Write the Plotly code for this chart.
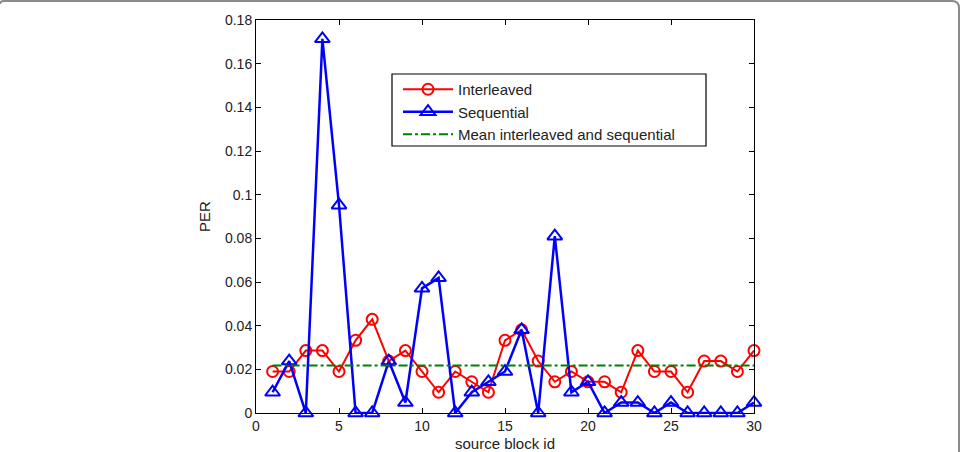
import numpy as np
import plotly.graph_objects as go

# ---- data ----
block_id = list(range(1, 31))
interleaved = [0.0190, 0.0190, 0.0286, 0.0286, 0.0190, 0.0333, 0.0429, 0.0238, 0.0286, 0.0190,
               0.0095, 0.0190, 0.0143, 0.0095, 0.0333, 0.0381, 0.0238, 0.0143, 0.0190, 0.0143,
               0.0143, 0.0095, 0.0286, 0.0190, 0.0190, 0.0095, 0.0238, 0.0238, 0.0190, 0.0286]
sequential = [0.0095, 0.0238, 0.0, 0.1714, 0.0952, 0.0, 0.0, 0.0238, 0.0048, 0.0571,
              0.0619, 0.0, 0.0095, 0.0143, 0.0190, 0.0381, 0.0, 0.0810, 0.0095, 0.0143,
              0.0, 0.0048, 0.0048, 0.0, 0.0048, 0.0, 0.0, 0.0, 0.0, 0.0048]
mean_value = float(np.mean(interleaved + sequential))
mean_line = [mean_value] * len(block_id)

x_ticks = [0, 5, 10, 15, 20, 25, 30]
y_ticks = [0, 0.02, 0.04, 0.06, 0.08, 0.1, 0.12, 0.14, 0.16, 0.18]
y_tick_labels = ["0", "0.02", "0.04", "0.06", "0.08", "0.1", "0.12", "0.14", "0.16", "0.18"]

# ---- layout geometry (pixels) ----
W, H = 961, 452
L, R, T, B = 256, 754, 20, 413


def px(xp):
    return (xp - L) / (R - L)


def py(yp):
    return (B - yp) / (B - T)


FONT = "Liberation Sans, Arial, Helvetica, sans-serif"

fig = go.Figure()
fig.add_trace(go.Scatter(
    x=block_id, y=interleaved, name="Interleaved", mode="lines+markers",
    line=dict(color="#ff0000", width=2),
    marker=dict(symbol="circle-open", size=11, color="#ff0000", line=dict(width=2)),
    cliponaxis=False))
fig.add_trace(go.Scatter(
    x=block_id, y=sequential, name="Sequential", mode="lines+markers",
    line=dict(color="#0000ff", width=2.5),
    marker=dict(symbol="triangle-up-open", size=13, color="#0000ff", line=dict(width=2)),
    cliponaxis=False))
fig.add_trace(go.Scatter(
    x=block_id, y=mean_line, name="Mean interleaved and sequential", mode="lines",
    line=dict(color="#008000", width=2, dash="dashdot")))

axis_common = dict(
    showline=True, linecolor="black", linewidth=1, mirror="ticks",
    ticks="inside", ticklen=5, tickcolor="black", tickwidth=1,
    showgrid=False, zeroline=False, automargin=False,
    tickfont=dict(family=FONT, size=14, color="#222"),
)

fig.update_xaxes(range=[0, 30], tickvals=x_ticks,
                 title=dict(text="source block id", font=dict(family=FONT, size=15, color="#222"), standoff=7),
                 **axis_common)
fig.update_yaxes(range=[0, 0.18], tickvals=y_ticks, ticktext=y_tick_labels,
                 title=dict(text="PER", font=dict(family=FONT, size=15, color="#222"), standoff=10),
                 **axis_common)

shapes = [
    # legend box
    dict(type="rect", xref="paper", yref="paper",
         x0=px(392), x1=px(706), y0=py(146), y1=py(74),
         line=dict(color="black", width=1.2), fillcolor="white", layer="below"),
    # outer rounded frame (partially cropped)
    dict(type="path", xref="paper", yref="paper",
         path=(f"M {px(0)},{py(4)} Q {px(0)},{py(1)} {px(4)},{py(1)} "
               f"L {px(952)},{py(1)} Q {px(959)},{py(1)} {px(959)},{py(8)} "
               f"L {px(959)},{py(452)}"),
         line=dict(color="#8a8a8a", width=2)),
]

fig.update_layout(
    width=W, height=H,
    margin=dict(l=L, r=W - R, t=T, b=H - B, autoexpand=False),
    paper_bgcolor="white", plot_bgcolor="white",
    font=dict(family=FONT, size=14, color="#222"),
    showlegend=True,
    legend=dict(x=px(398), y=py(73), xanchor="left", yanchor="top",
                bgcolor="rgba(0,0,0,0)", borderwidth=0,
                font=dict(family=FONT, size=15, color="#222"),
                itemwidth=50, tracegroupgap=0),
    shapes=shapes,
)

fig.write_html("out.html")
